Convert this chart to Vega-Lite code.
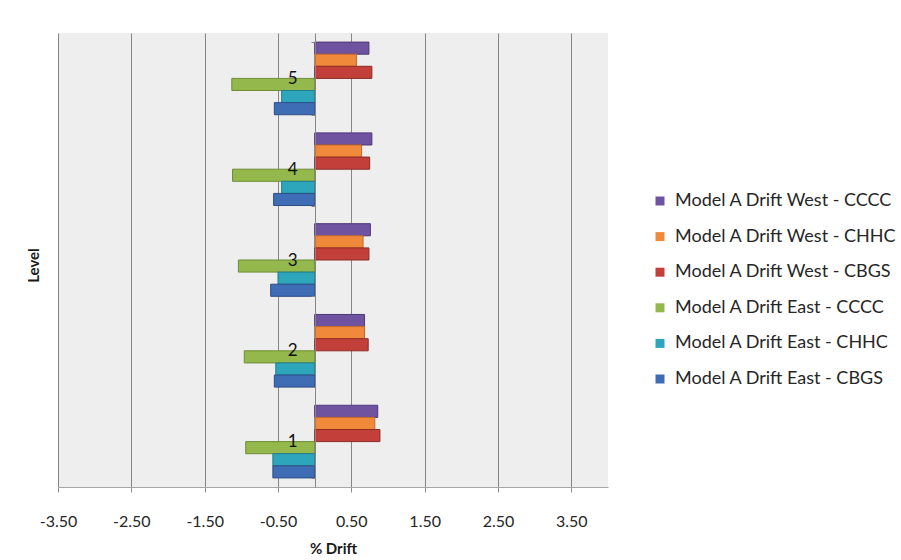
{
  "$schema": "https://vega.github.io/schema/vega-lite/v6.json",
  "width": 550,
  "height": 454,
  "autosize": {"type": "none"},
  "padding": {"left": 58, "top": 33, "right": 293, "bottom": 73},
  "background": "white",
  "config": {
    "font": "Lato",
    "view": {"fill": "#EEEEEE", "stroke": null}
  },
  "data": {
    "values": [
      {"level": "5", "series": "Model A Drift West - CCCC", "drift": 0.74},
      {"level": "5", "series": "Model A Drift West - CHHC", "drift": 0.57},
      {"level": "5", "series": "Model A Drift West - CBGS", "drift": 0.78},
      {"level": "5", "series": "Model A Drift East - CCCC", "drift": -1.13},
      {"level": "5", "series": "Model A Drift East - CHHC", "drift": -0.45},
      {"level": "5", "series": "Model A Drift East - CBGS", "drift": -0.55},
      {"level": "4", "series": "Model A Drift West - CCCC", "drift": 0.78},
      {"level": "4", "series": "Model A Drift West - CHHC", "drift": 0.64},
      {"level": "4", "series": "Model A Drift West - CBGS", "drift": 0.75},
      {"level": "4", "series": "Model A Drift East - CCCC", "drift": -1.12},
      {"level": "4", "series": "Model A Drift East - CHHC", "drift": -0.45},
      {"level": "4", "series": "Model A Drift East - CBGS", "drift": -0.56},
      {"level": "3", "series": "Model A Drift West - CCCC", "drift": 0.76},
      {"level": "3", "series": "Model A Drift West - CHHC", "drift": 0.66},
      {"level": "3", "series": "Model A Drift West - CBGS", "drift": 0.74},
      {"level": "3", "series": "Model A Drift East - CCCC", "drift": -1.04},
      {"level": "3", "series": "Model A Drift East - CHHC", "drift": -0.5},
      {"level": "3", "series": "Model A Drift East - CBGS", "drift": -0.6},
      {"level": "2", "series": "Model A Drift West - CCCC", "drift": 0.68},
      {"level": "2", "series": "Model A Drift West - CHHC", "drift": 0.68},
      {"level": "2", "series": "Model A Drift West - CBGS", "drift": 0.73},
      {"level": "2", "series": "Model A Drift East - CCCC", "drift": -0.96},
      {"level": "2", "series": "Model A Drift East - CHHC", "drift": -0.53},
      {"level": "2", "series": "Model A Drift East - CBGS", "drift": -0.55},
      {"level": "1", "series": "Model A Drift West - CCCC", "drift": 0.86},
      {"level": "1", "series": "Model A Drift West - CHHC", "drift": 0.82},
      {"level": "1", "series": "Model A Drift West - CBGS", "drift": 0.89},
      {"level": "1", "series": "Model A Drift East - CCCC", "drift": -0.94},
      {"level": "1", "series": "Model A Drift East - CHHC", "drift": -0.57},
      {"level": "1", "series": "Model A Drift East - CBGS", "drift": -0.57}
    ]
  },
  "mark": {"type": "bar", "strokeWidth": 1},
  "encoding": {
    "x": {
      "field": "drift",
      "type": "quantitative",
      "scale": {"domain": [-3.5, 4.0], "nice": false, "zero": false},
      "axis": {
        "title": "% Drift",
        "titleFontSize": 15,
        "titleFontWeight": "bold",
        "titleColor": "#1A1A1A",
        "titlePadding": 12,
        "values": [-3.5, -2.5, -1.5, -0.5, 0.5, 1.5, 2.5, 3.5],
        "labelExpr": "replace(format(datum.value, '.2f'), '\u2212', '-')",
        "labelFontSize": 16,
        "labelColor": "#262626",
        "labelPadding": 21,
        "labelFlush": false,
        "tickSize": 5,
        "tickColor": "#8C8C8C",
        "domainColor": "#A6A6A6",
        "grid": true,
        "gridColor": "#858585",
        "gridWidth": 1,
        "zindex": 0
      }
    },
    "y": {
      "field": "level",
      "type": "nominal",
      "sort": ["5", "4", "3", "2", "1"],
      "scale": {"paddingInner": 0.2, "paddingOuter": 0.1},
      "axis": {
        "title": "Level",
        "titleFontSize": 15,
        "titleFontWeight": "bold",
        "titleColor": "#1A1A1A",
        "titleX": -282,
        "titleY": 232,
        "titleAngle": 270,
        "titleAlign": "center",
        "titleBaseline": "middle",
        "offset": -257,
        "labelAngle": 0,
        "labelFontSize": 17,
        "labelColor": "#111111",
        "labelPadding": 14,
        "labelBaseline": "middle",
        "tickBand": "extent",
        "tickSize": 4,
        "tickColor": "#868686",
        "domainColor": "#868686",
        "grid": false,
        "zindex": 1
      }
    },
    "yOffset": {
      "field": "series",
      "type": "nominal",
      "sort": [
        "Model A Drift West - CCCC",
        "Model A Drift West - CHHC",
        "Model A Drift West - CBGS",
        "Model A Drift East - CCCC",
        "Model A Drift East - CHHC",
        "Model A Drift East - CBGS"
      ],
      "scale": {"paddingInner": 0, "paddingOuter": 0}
    },
    "color": {
      "field": "series",
      "type": "nominal",
      "sort": [
        "Model A Drift West - CCCC",
        "Model A Drift West - CHHC",
        "Model A Drift West - CBGS",
        "Model A Drift East - CCCC",
        "Model A Drift East - CHHC",
        "Model A Drift East - CBGS"
      ],
      "scale": {
        "range": ["#7053A0", "#F08A3A", "#C23F3A", "#94B84C", "#2DA6BB", "#3F6DB5"]
      },
      "legend": {
        "title": null,
        "orient": "none",
        "legendX": 593,
        "legendY": 159,
        "symbolType": "square",
        "symbolSize": 81,
        "symbolStrokeWidth": 0,
        "labelFontSize": 18,
        "labelColor": "#262626",
        "labelLimit": 300,
        "labelOffset": 6,
        "rowPadding": 17.6
      }
    },
    "stroke": {
      "field": "series",
      "type": "nominal",
      "sort": [
        "Model A Drift West - CCCC",
        "Model A Drift West - CHHC",
        "Model A Drift West - CBGS",
        "Model A Drift East - CCCC",
        "Model A Drift East - CHHC",
        "Model A Drift East - CBGS"
      ],
      "scale": {
        "range": ["#4E3878", "#C8692A", "#8E2A26", "#6E8C34", "#1F7D8E", "#2C4F86"]
      },
      "legend": null
    }
  }
}
